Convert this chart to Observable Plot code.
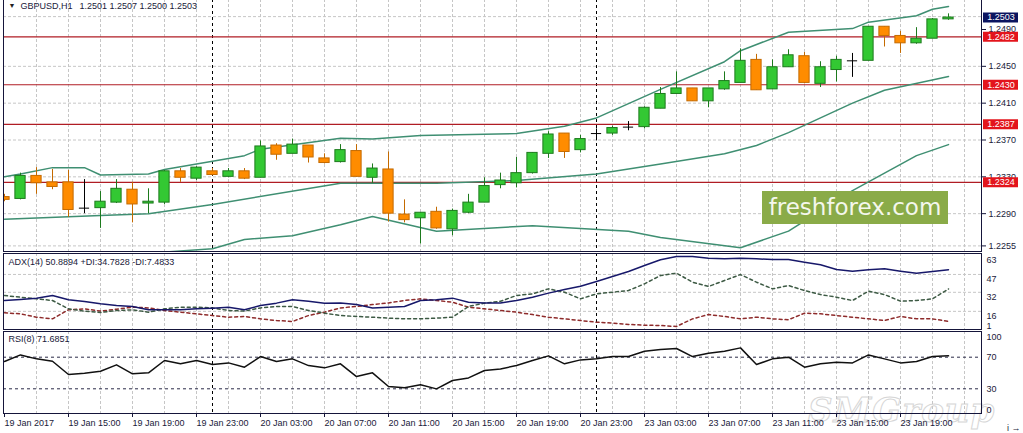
<!DOCTYPE html>
<html>
<head>
<meta charset="utf-8">
<script src="https://cdn.jsdelivr.net/npm/d3@7"></script>
<script src="https://cdn.jsdelivr.net/npm/@observablehq/plot@0.6"></script>
<style>
  body { margin: 0; background: #fff; }
  #wrap { position: relative; width: 1023px; height: 433px; overflow: hidden; background: #fff; }
  #wrap svg { position: absolute; left: 0; top: 0; }
  .wm-box { position: absolute; left: 762px; top: 191px; width: 186px; height: 33px; background: #8aab48;
            color: #f4f7ec; font: 23px "DejaVu Sans", sans-serif; line-height: 33px; text-align: center; }
  .wm-smg { position: absolute; left: 808px; top: 390px; font: italic bold 34px "DejaVu Serif", serif;
            color: rgba(0,0,0,0); -webkit-text-stroke: 1px #d6d6d6; letter-spacing: 1px; }
</style>
</head>
<body>
<div id="wrap"><div class="wm-smg">SMGroup</div></div>
<script>
// ---------- DATA (GBPUSD H1, 19 Jan 11:00 -> 23 Jan 22:00) ----------
const openP  = [1.2308,1.2306,1.2331,1.2324,1.2324,1.2296,1.2296,1.2302,1.2316,1.2301,
                1.2302,1.2336,1.2328,1.2336,1.2330,1.2336,1.2329,1.2364,1.2355,1.2364,
                1.2350,1.2346,1.2358,1.2329,1.2338,1.2289,1.2285,1.2292,1.2273,1.2291,
                1.2302,1.2321,1.2323,1.2334,1.2355,1.2377,1.2359,1.2377,1.2377,1.2384,
                1.2384,1.2404,1.2420,1.2426,1.2412,1.2425,1.2432,1.2457,1.2425,1.2449,
                1.2461,1.2431,1.2446,1.2456,1.2456,1.2493,1.2483,1.2475,1.2480,1.2501];
const highP  = [1.2311,1.2334,1.2340,1.2338,1.2337,1.2327,1.2314,1.2327,1.2324,1.2317,
                1.2337,1.2339,1.2341,1.2339,1.2339,1.2339,1.2369,1.2366,1.2371,1.2364,
                1.2355,1.2365,1.2365,1.2344,1.2357,1.2305,1.2291,1.2297,1.2295,1.2311,
                1.2329,1.2334,1.2351,1.2356,1.2379,1.2377,1.2375,1.2382,1.2385,1.2390,
                1.2406,1.2427,1.2444,1.2426,1.2426,1.2444,1.2469,1.2463,1.2457,1.2468,
                1.2465,1.2455,1.2461,1.2464,1.2493,1.2493,1.2488,1.2492,1.2502,1.2507];
const lowP   = [1.2303,1.2305,1.2311,1.2316,1.2286,1.2290,1.2274,1.2301,1.2280,1.2290,
                1.2300,1.2324,1.2326,1.2331,1.2329,1.2327,1.2329,1.2348,1.2355,1.2345,
                1.2344,1.2345,1.2330,1.2323,1.2281,1.2280,1.2257,1.2273,1.2266,1.2290,
                1.2302,1.2317,1.2318,1.2333,1.2350,1.2350,1.2356,1.2369,1.2375,1.2380,
                1.2382,1.2404,1.2420,1.2412,1.2405,1.2424,1.2432,1.2424,1.2425,1.2449,
                1.2431,1.2427,1.2433,1.2438,1.2456,1.2471,1.2464,1.2474,1.2480,1.2500];
const closeP = [1.2305,1.2331,1.2323,1.2319,1.2294,1.2296,1.2303,1.2317,1.2300,1.2303,
                1.2336,1.2329,1.2340,1.2332,1.2336,1.2328,1.2363,1.2354,1.2365,1.2351,
                1.2345,1.2359,1.2330,1.2339,1.2290,1.2283,1.2291,1.2274,1.2293,1.2302,
                1.2320,1.2326,1.2334,1.2356,1.2376,1.2357,1.2371,1.2377,1.2383,1.2384,
                1.2405,1.2420,1.2426,1.2412,1.2426,1.2434,1.2456,1.2424,1.2449,1.2462,
                1.2432,1.2449,1.2457,1.2456,1.2493,1.2483,1.2475,1.2480,1.2501,1.2503];

// Bollinger bands (sampled at bar indices)
const upperIdx = [0,1,3,5,6,9,10,15,16,21,23,26,32,35,37,41,45,46,49,53,54,57,58,59];
const upperVal = [1.2330,1.2333,1.2340,1.2340,1.2332,1.2333,1.2338,1.2353,1.2360,1.2372,1.2371,1.2375,
                  1.2377,1.2385,1.2394,1.2425,1.2455,1.2467,1.2487,1.2491,1.2498,1.2505,1.2512,1.2515];
const midIdx = [0,6,9,13,21,27,32,37,41,45,47,49,53,55,59];
const midVal = [1.2284,1.2288,1.2290,1.2300,1.2323,1.2323,1.2326,1.2333,1.2344,1.2355,1.2364,1.2378,1.2410,1.2424,1.2439];
const lowerIdx = [0,6,9,13,15,18,21,23,27,33,39,41,46,49,53,57,59];
const lowerVal = [1.2238,1.2244,1.2247,1.2252,1.2262,1.2266,1.2278,1.2287,1.2271,1.2277,1.2271,1.2264,1.2253,1.2271,1.2315,1.2353,1.2365];

// Horizontal levels and current price
const levels = [1.2482, 1.2430, 1.2387, 1.2324];
const lastPrice = [1.2503];
const priceTicks = [1.2490, 1.2450, 1.2410, 1.2370, 1.2330, 1.2290, 1.2255];
const priceGrid  = [1.2504, 1.2450, 1.2410, 1.2370, 1.2330, 1.2290, 1.2255];

// ADX(14)
const adxVal = [25.1,26.0,27.1,29.3,25.7,24.3,22.3,20.9,20.1,17.3,17.3,17.3,18.1,18.7,19.5,17.3,20.9,22.9,25.7,24.5,
                22.9,23.1,21.7,18.9,19.5,20.1,25.1,25.7,27.1,23.7,23.1,23.1,25.1,27.9,31.3,34.3,37.1,41.1,45.3,49.5,
                54.5,59.3,62.1,62.1,60.7,60.1,60.7,60.1,59.5,59.5,57.3,55.1,51.1,49.7,50.9,51.7,49.7,48.0,49.5,50.89];
const plusDI = [29.3,27.9,26.5,25.1,18.1,16.2,15.0,16.7,17.3,15.3,18.1,19.5,19.5,18.9,16.7,16.2,18.9,20.1,20.1,16.7,
                14.5,12.5,11.7,11.1,10.3,9.7,9.7,10.3,11.1,20.1,22.9,24.5,29.3,30.7,34.9,32.1,26.5,30.7,32.1,33.5,
                39.1,46.1,48.1,40.5,36.9,41.9,46.9,40.5,34.9,37.7,33.5,30.1,27.9,25.1,32.9,30.1,24.5,25.1,26.5,34.78];
const minusDI = [14.8,13.9,11.1,9.7,17.3,18.1,16.2,17.8,19.5,18.9,16.7,15.3,13.9,12.5,11.1,11.7,9.7,8.3,7.5,12.5,
                 15.3,18.9,20.1,21.7,23.1,25.1,26.5,25.1,23.7,19.5,18.1,16.7,15.3,13.3,11.1,9.7,8.3,6.9,6.1,5.0,
                 4.4,4.1,3.3,9.7,13.3,11.7,9.7,11.1,9.7,8.9,14.5,13.9,12.5,11.1,9.7,8.3,11.7,9.7,9.7,7.48];
const adxTicks = [63, 47, 32, 16];
const adxMin = [1];

// RSI(8)
const rsiVal = [64.5,72.9,67.9,64.9,48.1,49.7,52.3,60.3,48.9,50.2,65.8,61.6,65.8,60.7,62.8,57.3,70.8,64.5,67.9,59.4,
                56.5,61.6,45.5,50.2,32.9,31.2,35.0,29.9,40.5,43.8,53.1,55.2,59.4,65.8,71.7,61.6,66.6,67.9,70.8,70.8,
                77.6,79.7,81.0,70.8,75.1,77.6,81.8,60.7,67.9,70.0,57.3,61.6,63.7,62.8,72.9,67.9,62.8,64.5,70.8,71.69];
const rsiLevels = [70, 30];

// Time axis
const xTickIdx  = [0,4,8,12,16,20,24,28,32,36,40,44,48,52,56];
const xTickText = ["19 Jan 2017","19 Jan 15:00","19 Jan 19:00","19 Jan 23:00","20 Jan 03:00","20 Jan 07:00",
                   "20 Jan 11:00","20 Jan 15:00","20 Jan 19:00","20 Jan 23:00","23 Jan 03:00","23 Jan 07:00",
                   "23 Jan 11:00","23 Jan 15:00","23 Jan 19:00"];
const daySep = [13, 37];
const vGrid = d3.range(2, 61, 2);

const titleMain = "GBPUSD,H1\u2002 1.2501 1.2507 1.2500 1.2503";
const titleADX = "ADX(14) 50.8894 +DI:34.7828 -DI:7.4833";
const titleRSI = "RSI(8) 71.6851";

// ---------- BUILD ----------
const W = 1023, H = 433;
const xs = {domain: [0, 59], range: [4, 948]};
const yMain = {domain: [1.2250, 1.25215], range: [250, 0]};
const txt = "#1a1a3a";
const frameCol = "#15153a";
const gridCol = "#c6c6c6";
const style = {fontFamily: "Liberation Sans, Arial, sans-serif", fontSize: "9px", color: txt,
               background: "transparent", overflow: "visible"};

const candles = d3.range(openP.length).map(i => ({i, o: openP[i], h: highP[i], l: lowP[i], c: closeP[i]}));
const bodies = candles.filter(d => d.c !== d.o);
const dojis = candles.filter(d => d.c === d.o);
const upCol = "#33c833", upEdge = "#1d7a1d", dnCol = "#ff8c00", dnEdge = "#c46a00";
const wickCol = d => d.c > d.o ? upEdge : d.c < d.o ? dnEdge : "#000";
const band = (idx, val) => idx.map((i, k) => ({i, v: val[k]}));
const series = vals => vals.map((v, i) => ({i, v}));
const bbCol = "#3f8f72";
const hw = 0.32;

const main = Plot.plot({
  width: W, height: H, marginLeft: 3, marginRight: 42, marginTop: -1, marginBottom: 182,
  x: {...xs, axis: null}, y: yMain, color: {type: "identity"}, style,
  marks: [
    Plot.gridY(priceGrid, {stroke: gridCol, strokeOpacity: 1, strokeDasharray: "3,2"}),
    Plot.gridX(vGrid, {stroke: gridCol, strokeOpacity: 1, strokeDasharray: "3,2"}),
    Plot.ruleX(daySep, {stroke: "#000", strokeDasharray: "3,3"}),
    Plot.ruleY(levels, {stroke: "#b01c24", strokeWidth: 1.2}),
    Plot.line(band(upperIdx, upperVal), {x: "i", y: "v", stroke: bbCol, clip: true}),
    Plot.line(band(midIdx, midVal), {x: "i", y: "v", stroke: bbCol, clip: true}),
    Plot.line(band(lowerIdx, lowerVal), {x: "i", y: "v", stroke: bbCol, clip: true}),
    Plot.ruleX(candles, {x: "i", y1: "l", y2: "h", stroke: wickCol, clip: true}),
    Plot.rect(bodies, {x1: d => d.i - hw, x2: d => d.i + hw, y1: "o", y2: "c",
      fill: d => d.c > d.o ? upCol : dnCol, stroke: d => d.c > d.o ? upEdge : dnEdge, clip: true}),
    Plot.ruleY(dojis, {y: "c", x1: d => d.i - hw, x2: d => d.i + hw, stroke: "#000", clip: true}),
    Plot.axisY({anchor: "right", ticks: priceTicks, tickFormat: d3.format(".4f"), tickSize: 4, tickPadding: 3,
      stroke: frameCol, fill: txt}),
    Plot.frame({stroke: frameCol}),
    Plot.text(["\u25BC"], {frameAnchor: "top-left", dx: 5, dy: 4, lineAnchor: "top", fontSize: 7, fill: "#222"}),
    Plot.text([titleMain], {frameAnchor: "top-left", dx: 17, dy: 3, lineAnchor: "top", fill: txt})
  ]
});

const boxes = Plot.plot({
  width: W, height: H, marginLeft: 983, marginRight: 5, marginTop: 0, marginBottom: 182,
  x: {domain: [0, 1], axis: null}, y: {...yMain, axis: null}, style,
  marks: [
    Plot.ruleY(levels, {stroke: "#e3141c", strokeWidth: 10}),
    Plot.ruleY(lastPrice, {stroke: "#0b1460", strokeWidth: 10}),
    Plot.text(levels.concat(lastPrice), {y: d => d, text: d => d3.format(".4f")(d), frameAnchor: "middle", fill: "#fff"})
  ]
});

const adx = Plot.plot({
  width: W, height: H, marginLeft: 3, marginRight: 42, marginTop: 253, marginBottom: 104,
  x: {...xs, axis: null}, y: {domain: [0, 63.5], range: [329.9, 254.3], axis: null}, style,
  marks: [
    Plot.gridY(adxTicks.slice(1), {stroke: gridCol, strokeOpacity: 1, strokeDasharray: "3,2"}),
    Plot.gridX(vGrid, {stroke: gridCol, strokeOpacity: 1, strokeDasharray: "3,2"}),
    Plot.ruleX(daySep, {stroke: "#000", strokeDasharray: "3,3"}),
    Plot.line(series(minusDI), {x: "i", y: "v", stroke: "#8e2b2b", strokeDasharray: "3,3"}),
    Plot.line(series(plusDI), {x: "i", y: "v", stroke: "#3d5a44", strokeDasharray: "3,3"}),
    Plot.line(series(adxVal), {x: "i", y: "v", stroke: "#17186a", strokeWidth: 1.5}),
    Plot.frame({stroke: frameCol}),
    Plot.text(adxTicks, {y: d => d, text: d => String(d), frameAnchor: "right", textAnchor: "start", lineAnchor: "top", dx: 5, dy: 1, fill: txt}),
    Plot.text(adxMin, {y: d => d, text: d => String(d), frameAnchor: "right", textAnchor: "start", lineAnchor: "bottom", dx: 5, dy: 0, fill: txt}),
    Plot.text([titleADX], {frameAnchor: "top-left", dx: 5, dy: 5, lineAnchor: "top", fill: txt})
  ]
});

const xLabel = new Map(xTickIdx.map((d, k) => [d, xTickText[k]]));
const rsi = Plot.plot({
  width: W, height: H, marginLeft: 3, marginRight: 42, marginTop: 331, marginBottom: 20,
  x: xs, y: {domain: [0, 100], range: [412, 333], axis: null}, style,
  marks: [
    Plot.gridX(vGrid, {stroke: gridCol, strokeOpacity: 1, strokeDasharray: "3,2"}),
    Plot.ruleX(daySep, {stroke: "#000", strokeDasharray: "3,3"}),
    Plot.ruleY(rsiLevels, {stroke: "#2a2a48", strokeDasharray: "3,3"}),
    Plot.line(series(rsiVal), {x: "i", y: "v", stroke: "#111"}),
    Plot.frame({stroke: frameCol}),
    Plot.axisX({anchor: "bottom", ticks: xTickIdx, tickFormat: d => xLabel.get(d), textAnchor: "start",
      tickSize: 4, tickPadding: 2, stroke: frameCol, fill: txt}),
    Plot.text([100], {y: d => d, text: d => String(d), frameAnchor: "right", textAnchor: "start", lineAnchor: "top", dx: 5, fill: txt}),
    Plot.text(rsiLevels, {y: d => d, text: d => String(d), frameAnchor: "right", textAnchor: "start", dx: 5, fill: txt}),
    Plot.text([0], {y: d => d, text: d => String(d), frameAnchor: "right", textAnchor: "start", lineAnchor: "bottom", dx: 5, fill: txt}),
    Plot.text([titleRSI], {frameAnchor: "top-left", dx: 5, dy: 4, lineAnchor: "top", fill: txt})
  ]
});

const wrap = document.getElementById("wrap");
[main, boxes, adx, rsi].forEach(s => wrap.appendChild(s));
const wm = document.createElement("div");
wm.className = "wm-box";
wm.textContent = "freshforex.com";
wrap.appendChild(wm);
</script>
</body>
</html>
